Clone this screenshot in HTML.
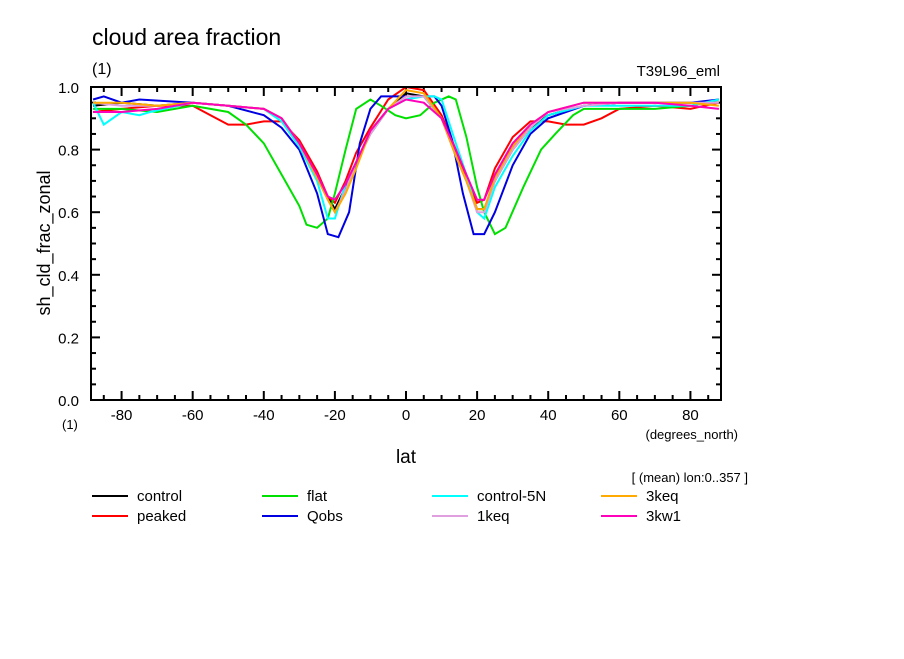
<!DOCTYPE html>
<html><head><meta charset="utf-8"><style>
body{margin:0;background:#fff}
svg text{font-family:"Liberation Sans",sans-serif;fill:#000}
</style></head><body>
<svg width="904" height="654" xmlns="http://www.w3.org/2000/svg">
<rect width="904" height="654" fill="#fff"/>
<text x="92" y="45" font-size="23">cloud area fraction</text>
<text x="92" y="74" font-size="16">(1)</text>
<text x="720" y="76" font-size="15" text-anchor="end">T39L96_eml</text>
<text transform="translate(50,243) rotate(-90)" font-size="18" text-anchor="middle">sh_cld_frac_zonal</text>
<text x="406" y="463" font-size="19" text-anchor="middle">lat</text>
<text x="738" y="439" font-size="13" text-anchor="end">(degrees_north)</text>
<text x="62" y="429" font-size="13">(1)</text>
<text x="748" y="482" font-size="13" text-anchor="end">[ (mean) lon:0..357 ]</text>
<g id="axes"></g>
<g id="series"></g>
<rect x="91" y="87" width="630" height="313" fill="none" stroke="#000" stroke-width="2"/>
<g id="legend"></g>
</svg>
<script>
const yTicks=[0,0.2,0.4,0.6,0.8,1.0];
const yTickLabels=["0.0","0.2","0.4","0.6","0.8","1.0"];
const xTicks=[-80,-60,-40,-20,0,20,40,60,80];
const seriesNames=["control","peaked","flat","Qobs","control-5N","1keq","3keq","3kw1"];
const seriesColors=["#000","#ff0000","#00e000","#0000e0","#00ffff","#e0a0e0","#ffaa00","#ff00bb"];
const latControl=[-88,-80,-70,-60,-50,-40,-35,-30,-25,-22,-20,-17,-14,-10,-5,0,5,10,14,17,20,22,25,30,35,40,50,60,70,80,88];
const valControl=[.94,.95,.94,.95,.94,.93,.90,.82,.72,.65,.61,.68,.76,.85,.93,.98,.97,.90,.78,.70,.61,.61,.70,.80,.87,.91,.94,.95,.95,.95,.95];
const latPeaked=[-88,-80,-70,-60,-55,-50,-45,-40,-35,-30,-25,-22,-20,-17,-14,-10,-5,0,5,10,14,17,20,22,25,30,35,40,45,50,55,60,70,80,88];
const valPeaked=[.92,.93,.94,.94,.91,.88,.88,.89,.89,.83,.73,.65,.63,.70,.79,.87,.96,1.0,.99,.91,.80,.71,.63,.64,.74,.84,.89,.89,.88,.88,.90,.93,.94,.93,.95];
const latFlat=[-88,-80,-70,-60,-50,-45,-40,-35,-30,-28,-25,-22,-20,-17,-14,-10,-7,-3,0,4,8,12,14,17,20,22,25,28,33,38,42,47,50,60,70,80,88];
const valFlat=[.93,.93,.92,.94,.92,.88,.82,.72,.62,.56,.55,.58,.66,.80,.93,.96,.94,.91,.90,.91,.95,.97,.96,.84,.68,.60,.53,.55,.68,.80,.85,.91,.93,.93,.93,.94,.96];
const latQobs=[-88,-85,-80,-75,-60,-50,-40,-35,-30,-25,-22,-19,-16,-13,-10,-7,0,5,8,10,13,16,19,22,25,30,35,40,50,60,70,80,88];
const valQobs=[.96,.97,.95,.96,.95,.94,.91,.87,.80,.66,.53,.52,.60,.82,.93,.97,.97,.97,.97,.94,.83,.66,.53,.53,.60,.75,.85,.90,.94,.95,.95,.95,.96];
const latC5N=[-88,-85,-80,-75,-72,-60,-50,-40,-35,-30,-25,-22,-20,-17,-14,-10,-5,0,5,8,10,14,17,20,22,25,30,35,40,50,60,70,80,88];
const valC5N=[.95,.88,.92,.91,.92,.95,.94,.93,.89,.81,.70,.58,.58,.69,.76,.85,.93,.96,.97,.97,.96,.82,.72,.60,.58,.68,.78,.86,.91,.94,.94,.94,.94,.96];
const val1keq=[.95,.94,.94,.95,.94,.93,.90,.82,.71,.64,.60,.67,.76,.85,.93,.97,.97,.90,.78,.70,.60,.60,.70,.80,.87,.92,.94,.95,.95,.95,.95];
const val3keq=[.95,.95,.94,.95,.94,.93,.90,.82,.71,.64,.60,.66,.74,.86,.93,.99,.98,.90,.78,.70,.61,.61,.71,.81,.88,.92,.95,.95,.95,.95,.94];
const val3kw1=[.92,.92,.93,.95,.94,.93,.90,.82,.72,.65,.64,.69,.76,.86,.93,.96,.95,.90,.80,.72,.64,.64,.72,.82,.88,.92,.95,.95,.95,.94,.93];
const seriesLats=[latControl,latPeaked,latFlat,latQobs,latC5N,latControl,latControl,latControl];
const seriesVals=[valControl,valPeaked,valFlat,valQobs,valC5N,val1keq,val3keq,val3kw1];

const NS="http://www.w3.org/2000/svg";
const X0=91,X1=721,Y0=400,Y1=87,LMIN=-88.6,LMAX=88.6;
function xs(l){return X0+(l-LMIN)/(LMAX-LMIN)*(X1-X0);}
function ys(v){return Y0-v*(Y0-Y1);}
function mk(t,a,p){const e=document.createElementNS(NS,t);for(const k in a)e.setAttribute(k,a[k]);p.appendChild(e);return e;}
const axes=document.getElementById('axes');
for(let v=0;v<=1.0001;v+=0.05){
  const maj=Math.abs(v*5-Math.round(v*5))<1e-6;const L=maj?9:5;
  const t1=mk('line',{x1:X0,x2:X0+L,y1:ys(v),y2:ys(v),stroke:'#000','stroke-width':2},axes);
  
  
  const t2=mk('line',{x1:X1,x2:X1-L,y1:ys(v),y2:ys(v),stroke:'#000','stroke-width':2},axes);
  
  
}
yTicks.forEach((v,i)=>{
  const t=mk('text',{x:X0-12,y:ys(v)+6,'font-size':15,'text-anchor':'end'},axes);t.textContent=yTickLabels[i];
  
  
});
for(let l=-85;l<=85;l+=5){
  const maj=l%20===0;const L=maj?9:5;
  const a=mk('line',{x1:xs(l),x2:xs(l),y1:Y0,y2:Y0-L,stroke:'#000','stroke-width':2},axes);
  
  
  const b=mk('line',{x1:xs(l),x2:xs(l),y1:Y1,y2:Y1+L,stroke:'#000','stroke-width':2},axes);
  
  
}
xTicks.forEach(l=>{
  const t=mk('text',{x:xs(l),y:Y0+20,'font-size':15,'text-anchor':'middle'},axes);t.textContent=String(l);
  
  
});
const sg=document.getElementById('series');
seriesNames.forEach((n,i)=>{
  const pts=seriesLats[i].map((l,j)=>xs(l).toFixed(1)+','+ys(seriesVals[i][j]).toFixed(1)).join(' ');
  const p=mk('polyline',{points:pts,fill:'none',stroke:seriesColors[i],'stroke-width':2},sg);
  
  
});
const lg=document.getElementById('legend');
const colX=[92,262,432,601];
seriesNames.forEach((n,i)=>{
  const order=[0,2,4,6,1,3,5,7];
  const pos=order.indexOf(i);const c=pos%4,r=Math.floor(pos/4);
  const y=496+r*20;
  const g=mk('g',{},lg);
  
  
  mk('line',{x1:colX[c],x2:colX[c]+36,y1:y,y2:y,stroke:seriesColors[i],'stroke-width':2},g);
  const t=mk('text',{x:colX[c]+45,y:y+5,'font-size':15},g);t.textContent=n;
});
</script>
</body></html>
